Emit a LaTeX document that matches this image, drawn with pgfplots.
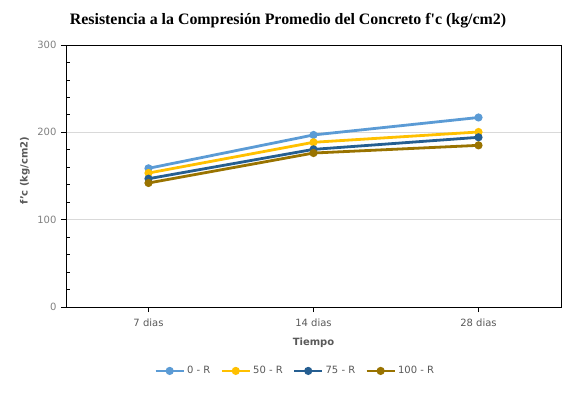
\documentclass[border=0pt]{standalone}
\usepackage{fontspec}
\setmainfont{DejaVu Sans}
\newfontfamily\titlefont{Liberation Serif}
\usepackage{pgfplots}
\pgfplotsset{compat=1.18}
\definecolor{c0}{HTML}{5B9BD5}
\definecolor{c50}{HTML}{FFC000}
\definecolor{c75}{HTML}{255E91}
\definecolor{c100}{HTML}{997300}
\definecolor{txt}{HTML}{595959}
\definecolor{tlab}{HTML}{808080}
\definecolor{grd}{HTML}{D9D9D9}

\begin{document}
\begin{tikzpicture}[x=1pt,y=1pt]
\path[use as bounding box] (-66,-91) rectangle (511,307);
\begin{axis}[
	at={(0,0)}, anchor=south west,
	scale only axis, width=495pt, height=262pt,
	xmin=-0.5, xmax=2.5, ymin=0, ymax=300,
	xtick={0,1,2}, xticklabels={7 dias,14 dias,28 dias},
	ytick={0,100,200,300},
	minor y tick num=4,
	xtick pos=left, ytick pos=left,
	ymajorgrids, major grid style={grd, line width=0.8pt},
	axis line style={black, line width=0.8pt},
	tick style={black, line width=0.8pt},
	tick align=outside, major tick length=5pt, minor tick length=-4pt,
	/pgf/number format/assume math mode=true,
	ticklabel style={font=\fontsize{10}{11}\selectfont},
	yticklabel style={color=tlab, xshift=-1pt},
	xticklabel style={color=txt, yshift=-3pt},
	xlabel=Tiempo, ylabel={f'c (kg/cm2)},
	label style={font=\fontsize{10}{11}\selectfont\bfseries, color=txt},
	xlabel style={at={(axis description cs:0.5,-0.137)}, anchor=center},
	ylabel style={at={(axis description cs:-0.083,0.52)}, anchor=center},
	title={Resistencia a la Compresión Promedio del Concreto f'c (kg/cm2)},
	title style={font=\titlefont\bfseries\fontsize{15.9}{18}\selectfont,
		at={(axis description cs:0.4485,1.07)}, anchor=center},
	every axis plot/.append style={line width=2.8pt, mark=*, mark size=2.6pt},
	legend style={at={(axis description cs:0.463,-0.244)}, anchor=center,
		draw=none, legend columns=-1, font=\fontsize{10}{11}\selectfont,
		text=txt, /tikz/every even column/.append style={column sep=8pt}},
	legend image code/.code={\draw[mark repeat=2,mark phase=2,#1]
		plot coordinates {(0pt,0pt) (14pt,0pt) (28pt,0pt)};},
]
\addplot[color=c0] coordinates {(0,158.8) (1,197) (2,217)};
\addplot[color=c50] coordinates {(0,153.4) (1,188.6) (2,200.4)};
\addplot[color=c75] coordinates {(0,146.9) (1,180.5) (2,194.3)};
\addplot[color=c100] coordinates {(0,142) (1,176.3) (2,185.1)};
\legend{0 - R,50 - R,75 - R,100 - R}
\end{axis}
\end{tikzpicture}
\end{document}
